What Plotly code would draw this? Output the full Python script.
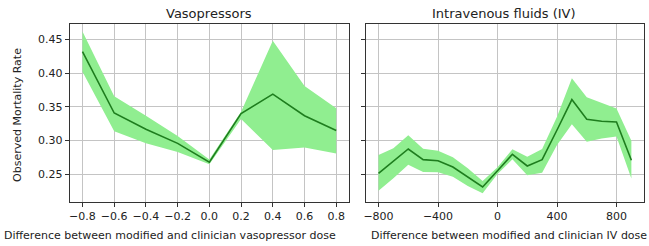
import plotly.graph_objects as go

# Vasopressors panel
vaso_x = [-0.8, -0.6, -0.4, -0.2, 0.0, 0.2, 0.4, 0.6, 0.8]
vaso_mean = [0.432, 0.341, 0.317, 0.296, 0.268, 0.340, 0.369, 0.337, 0.315]
vaso_upper = [0.462, 0.366, 0.337, 0.307, 0.272, 0.343, 0.448, 0.381, 0.348]
vaso_lower = [0.402, 0.314, 0.296, 0.283, 0.265, 0.332, 0.286, 0.290, 0.281]

# IV fluids panel
iv_x = [-800, -700, -600, -500, -400, -300, -200, -100, 0, 100, 200, 300, 400, 500, 600, 700, 800, 900]
iv_mean = [0.2515, 0.269, 0.2876, 0.2718, 0.2703, 0.2609, 0.2465, 0.2312, 0.2554, 0.2797,
           0.2624, 0.2718, 0.3158, 0.3609, 0.3317, 0.3287, 0.3277, 0.2708]
iv_upper = [0.2787, 0.2886, 0.3079, 0.2881, 0.2851, 0.2752, 0.2589, 0.2401, 0.2604, 0.2871,
            0.2762, 0.2876, 0.3356, 0.3926, 0.3644, 0.3554, 0.3475, 0.300]
iv_lower = [0.2257, 0.2441, 0.2644, 0.2535, 0.253, 0.2465, 0.2327, 0.2218, 0.2505, 0.2723,
            0.2485, 0.2525, 0.2936, 0.3243, 0.2985, 0.303, 0.306, 0.244]

vaso_ticks = [-0.8, -0.6, -0.4, -0.2, 0.0, 0.2, 0.4, 0.6, 0.8]
vaso_ticktext = ["\u22120.8", "\u22120.6", "\u22120.4", "\u22120.2", "0.0", "0.2", "0.4", "0.6", "0.8"]
iv_ticks = [-800, -400, 0, 400, 800]
iv_ticktext = ["\u2212800", "\u2212400", "0", "400", "800"]
y_ticks = [0.25, 0.30, 0.35, 0.40, 0.45]
y_ticktext = ["0.25", "0.30", "0.35", "0.40", "0.45"]

FILL = "#90ee90"
LINE = "#1e7d1e"
FONT = "DejaVu Sans"

fig = go.Figure()

def add_panel(x, lo, hi, mean, xa, ya):
    fig.add_trace(go.Scatter(x=x, y=lo, mode="lines", line=dict(width=0, color=FILL),
                             xaxis=xa, yaxis=ya, showlegend=False, hoverinfo="skip"))
    fig.add_trace(go.Scatter(x=x, y=hi, mode="lines", line=dict(width=0, color=FILL),
                             fill="tonexty", fillcolor=FILL,
                             xaxis=xa, yaxis=ya, showlegend=False, hoverinfo="skip"))
    fig.add_trace(go.Scatter(x=x, y=mean, mode="lines", line=dict(width=1.6, color=LINE),
                             xaxis=xa, yaxis=ya, showlegend=False))

add_panel(vaso_x, vaso_lower, vaso_upper, vaso_mean, "x", "y")
add_panel(iv_x, iv_lower, iv_upper, iv_mean, "x2", "y2")

W, H = 649, 246
ydom = [1 - 202 / H, 1 - 24 / H]
axis_common = dict(showline=True, mirror=True, linecolor="#333333", linewidth=1,
                   ticks="outside", ticklen=4, tickcolor="#333333",
                   showgrid=True, gridcolor="#c4c4c4", gridwidth=1, zeroline=False,
                   tickfont=dict(family=FONT, size=11, color="#222222"))

fig.update_layout(
    width=W, height=H,
    margin=dict(l=0, r=0, t=0, b=0),
    paper_bgcolor="white", plot_bgcolor="white",
    font=dict(family=FONT, size=11, color="#222222"),
    xaxis=dict(domain=[68 / W, 348 / W], range=[-0.88, 0.88], anchor="y",
               tickvals=vaso_ticks, ticktext=vaso_ticktext, **axis_common),
    yaxis=dict(domain=ydom, range=[0.209, 0.473], anchor="x",
               tickvals=y_ticks, ticktext=y_ticktext, **axis_common),
    xaxis2=dict(domain=[365 / W, 644 / W], range=[-885, 985], anchor="y2",
                tickvals=iv_ticks, ticktext=iv_ticktext, **axis_common),
    yaxis2=dict(domain=ydom, range=[0.209, 0.473], anchor="x2",
                tickvals=y_ticks, showticklabels=False, **axis_common),
    annotations=[
        dict(text="Vasopressors", x=208 / W, y=1 - 13 / H, xref="paper", yref="paper",
             showarrow=False, font=dict(family=FONT, size=13, color="#222222"),
             xanchor="center", yanchor="middle"),
        dict(text="Intravenous fluids (IV)", x=504 / W, y=1 - 13 / H, xref="paper", yref="paper",
             showarrow=False, font=dict(family=FONT, size=13, color="#222222"),
             xanchor="center", yanchor="middle"),
        dict(text="Observed Mortality Rate", x=15 / W, y=1 - 115 / H, xref="paper", yref="paper",
             showarrow=False, textangle=-90, font=dict(family=FONT, size=11, color="#222222"),
             xanchor="center", yanchor="middle"),
        dict(text="Difference between modified and clinician vasopressor dose", x=0, y=1 - 235 / H,
             xref="paper", yref="paper", showarrow=False,
             font=dict(family=FONT, size=11, color="#222222"), xanchor="left", yanchor="middle"),
        dict(text="Difference between modified and clinician IV dose", x=1, y=1 - 235 / H,
             xref="paper", yref="paper", showarrow=False,
             font=dict(family=FONT, size=11, color="#222222"), xanchor="right", yanchor="middle"),
    ],
)

fig.write_html("out.html", config={"displayModeBar": False},
               post_script="document.body.style.margin='0';document.body.style.overflow='hidden';")
